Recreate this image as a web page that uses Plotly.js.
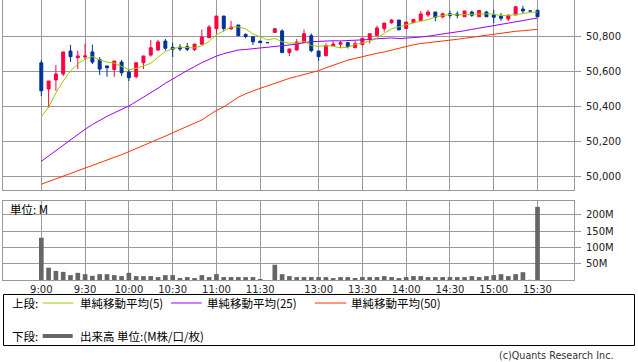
<!DOCTYPE html>
<html>
<head>
<meta charset="utf-8">
<script src="https://cdn.plot.ly/plotly-3.0.1.min.js"></script>
<style>
html,body{margin:0;padding:0;background:#fff;}
#chart{width:638px;height:362px;}
</style>
</head>
<body>
<div id="chart"></div>
<script>
// ---- data ----
const times = ["9:00","9:05","9:10","9:15","9:20","9:25","9:30","9:35","9:40","9:45",
"9:50","9:55","10:00","10:05","10:10","10:15","10:20","10:25","10:30","10:35",
"10:40","10:45","10:50","10:55","11:00","11:05","11:10","11:15","11:20","11:25",
"11:30","12:25","12:30","12:35","12:40","12:45","12:50","12:55","13:00","13:05",
"13:10","13:15","13:20","13:25","13:30","13:35","13:40","13:45","13:50","13:55",
"14:00","14:05","14:10","14:15","14:20","14:25","14:30","14:35","14:40","14:45",
"14:50","14:55","15:00","15:05","15:10","15:15","15:20","15:25","15:30"];

const openP = [50647,50497,50549,50583,50714,50676,50680,50709,50665,50629,
50609,50651,50594,50567,50647,50691,50720,50771,50735,50737,
50739,50722,50753,50790,50842,50914,50840,50863,50809,50796,
50771,50762,50820,50829,50705,50720,50762,50802,50714,50687,
50743,50753,50762,50733,50751,50780,50803,50842,50876,50891,
50843,50876,50887,50920,50937,50909,50927,50926,50910,50937,
50910,50937,50920,50914,50897,50920,50954,50943,50947];
const highP = [50663,50543,50634,50709,50749,50717,50757,50751,50680,50629,
50657,50663,50610,50647,50686,50777,50777,50783,50762,50754,
50760,50754,50836,50863,50914,50914,50886,50863,50815,50796,
50771,50762,50847,50838,50726,50783,50838,50815,50714,50757,
50771,50773,50767,50773,50789,50813,50859,50874,50897,50891,
50880,50899,50943,50949,50937,50933,50945,50941,50943,50945,
50950,50943,50950,50931,50920,50967,50973,50943,50947];
const lowP = [50457,50389,50487,50571,50651,50611,50663,50640,50577,50567,
50567,50571,50543,50558,50611,50682,50714,50717,50680,50714,
50714,50714,50753,50790,50810,50826,50840,50800,50787,50749,
50762,50762,50820,50705,50686,50717,50762,50707,50657,50687,
50743,50731,50729,50733,50745,50757,50803,50825,50869,50835,
50843,50876,50887,50909,50884,50901,50901,50901,50909,50909,
50909,50909,50874,50886,50886,50920,50927,50943,50910];
const closeP = [50487,50543,50583,50709,50682,50686,50686,50651,50611,50619,
50657,50590,50562,50647,50686,50733,50766,50730,50724,50726,
50724,50754,50794,50851,50914,50843,50851,50802,50797,50767,
50762,50762,50841,50705,50726,50766,50813,50716,50682,50745,
50754,50762,50739,50756,50787,50813,50846,50874,50891,50835,
50880,50894,50926,50937,50907,50927,50918,50918,50943,50918,
50945,50910,50907,50901,50920,50967,50943,50943,50910];

const ma5 = [50339,50394,50474,50543,50601,50641,50669,50683,50663,50651,
50645,50626,50608,50615,50628,50644,50679,50712,50728,50736,
50734,50732,50744,50770,50807,50831,50851,50852,50841,50812,
50796,50778,50786,50767,50759,50760,50770,50745,50741,50744,
50742,50732,50736,50751,50760,50771,50788,50815,50842,50852,
50865,50875,50885,50894,50909,50918,50923,50921,50923,50925,
50928,50927,50925,50916,50917,50921,50928,50935,50937];
const ma25 = [50084,50115,50145,50175,50205,50238,50267,50294,50320,50341,
50361,50381,50400,50425,50450,50475,50502,50530,50555,50580,
50603,50625,50648,50666,50685,50699,50711,50720,50723,50727,
50730,50733,50740,50744,50749,50753,50762,50768,50769,50772,
50773,50772,50773,50774,50777,50780,50784,50787,50789,50785,
50787,50789,50794,50799,50805,50811,50818,50821,50830,50838,
50845,50849,50857,50865,50872,50881,50888,50896,50902];
const ma50 = [49953,49968,49983,49998,50013,50028,50044,50058,50073,50090,
50106,50122,50139,50156,50173,50190,50209,50228,50247,50265,
50283,50301,50320,50348,50375,50395,50425,50450,50470,50487,
50501,50515,50530,50546,50558,50569,50580,50591,50602,50618,
50634,50648,50662,50672,50683,50692,50701,50709,50720,50731,
50743,50750,50757,50761,50766,50771,50775,50781,50787,50793,
50799,50805,50812,50817,50822,50827,50830,50835,50838];

// volume in millions
const volume = [130,38,28,25,15,22,18,13,18,18,
15,12,22,12,12,12,9,15,15,6,
9,6,15,9,18,9,9,9,9,9,
3,0,47,18,12,9,9,9,9,9,
6,9,9,6,9,9,9,12,9,6,
9,12,12,9,9,9,9,9,9,12,
9,12,15,18,12,18,24,0.5,225];

const timeTicks = ["9:00","9:30","10:00","10:30","11:00","11:30","13:00","13:30","14:00","14:30","15:00","15:30"];
const priceTicks = [50000,50200,50400,50600,50800];
const volTicks = [50,100,150,200];
const volTickText = ["50M","100M","150M","200M"];

const legendTop = "上段:";
const legendBottom = "下段:";
const maNames = ["単純移動平均(5)","単純移動平均(25)","単純移動平均(50)"];
const volName = "出来高 単位:(M株/口/枚)";
const unitLabel = "単位: M";
const copyright = "(c)Quants Research Inc.";

// ---- styles ----
const RED = "#ff0040", BLUE = "#003399";
const C5 = "#99cc00", C25 = "#9900ff", C50 = "#ff3300", CVOL = "#666666";
const GRID = "#999999";
const NUM_FONT = "DejaVu Sans, Verdana, sans-serif";
const JP_FONT = "'Noto Sans CJK JP', 'DejaVu Sans', sans-serif";
const JP_SIZE = 11.5;

// pixel -> paper helpers (plot area: x 3..574, y 0..280)
const L = 3, W = 571, H = 280;
const X = px => (px - L) / W;
const Y = py => (H - py) / H;

const traces = [
  {type:"candlestick", x:times, open:openP, high:highP, low:lowP, close:closeP,
   xaxis:"x2", yaxis:"y", showlegend:false, hoverinfo:"skip",
   increasing:{line:{color:RED,width:1}, fillcolor:RED},
   decreasing:{line:{color:BLUE,width:1}, fillcolor:BLUE},
   whiskerwidth:0},
  {type:"scatter", mode:"lines", x:times, y:ma50, xaxis:"x2", yaxis:"y",
   line:{color:C50,width:1}, showlegend:false, hoverinfo:"skip"},
  {type:"scatter", mode:"lines", x:times, y:ma25, xaxis:"x2", yaxis:"y",
   line:{color:C25,width:1}, showlegend:false, hoverinfo:"skip"},
  {type:"scatter", mode:"lines", x:times, y:ma5, xaxis:"x2", yaxis:"y",
   line:{color:C5,width:1}, showlegend:false, hoverinfo:"skip"},
  {type:"bar", x:times, y:volume, xaxis:"x", yaxis:"y2",
   marker:{color:CVOL, line:{width:0}}, showlegend:false, hoverinfo:"skip"}
];

const xCommon = {
  type:"category", range:[-5.25, 73.0], tickmode:"array", tickvals:timeTicks, ticktext:timeTicks,
  showgrid:true, gridcolor:GRID, gridwidth:1, showline:true, linecolor:GRID, linewidth:1,
  mirror:true, ticks:"", zeroline:false, fixedrange:true,
  tickfont:{family:NUM_FONT, size:10, color:"#222"}
};

const layout = {
  width:638, height:362,
  margin:{l:L, r:638-574, t:0, b:362-H},
  paper_bgcolor:"#fff", plot_bgcolor:"#fff",
  showlegend:false, boxgap:0.42, bargap:0.36,
  xaxis: Object.assign({}, xCommon, {anchor:"y2"}),
  xaxis2: Object.assign({}, xCommon, {anchor:"y", matches:"x", showticklabels:false, rangeslider:{visible:false}}),
  yaxis: {domain:[(H-190)/H, 1], range:[49920, 51005.7], side:"right", anchor:"x2",
    tickmode:"array", tickvals:priceTicks, tickformat:",d",
    ticks:"outside", ticklen:6, tickcolor:GRID, ticklabelstandoff:3,
    showgrid:true, gridcolor:GRID, showline:true, linecolor:GRID, mirror:true, zeroline:false,
    tickfont:{family:NUM_FONT, size:10, color:"#222"}, fixedrange:true},
  yaxis2: {domain:[0, (H-201)/H], range:[0, 243], side:"right", anchor:"x",
    tickmode:"array", tickvals:volTicks, ticktext:volTickText,
    ticks:"outside", ticklen:6, tickcolor:GRID, ticklabelstandoff:3,
    showgrid:true, gridcolor:GRID, showline:true, linecolor:GRID, mirror:true, zeroline:false,
    tickfont:{family:NUM_FONT, size:10, color:"#222"}, fixedrange:true},
  shapes:[
    {type:"rect", xref:"paper", yref:"paper", x0:X(3.5), x1:X(634.5), y0:Y(294.5), y1:Y(345.5),
     line:{color:"#000", width:1}, fillcolor:"rgba(0,0,0,0)"},
    {type:"line", xref:"paper", yref:"paper", x0:X(42.7), x1:X(73.3), y0:Y(303), y1:Y(303), line:{color:C5,width:1}},
    {type:"line", xref:"paper", yref:"paper", x0:X(171), x1:X(201.7), y0:Y(303), y1:Y(303), line:{color:C25,width:1}},
    {type:"line", xref:"paper", yref:"paper", x0:X(315), x1:X(346.3), y0:Y(303), y1:Y(303), line:{color:C50,width:1}},
    {type:"line", xref:"paper", yref:"paper", x0:X(42.7), x1:X(72.7), y0:Y(336), y1:Y(336), line:{color:CVOL,width:4}}
  ],
  annotations:[
    {xref:"paper", yref:"paper", x:X(8), y:Y(209), text:unitLabel, showarrow:false, xanchor:"left", yanchor:"middle",
     font:{family:JP_FONT, size:JP_SIZE, color:"#000"}},
    {xref:"paper", yref:"paper", x:X(10), y:Y(303), text:legendTop, showarrow:false, xanchor:"left", yanchor:"middle",
     font:{family:JP_FONT, size:JP_SIZE, color:"#000"}},
    {xref:"paper", yref:"paper", x:X(77.5), y:Y(303), text:maNames[0], showarrow:false, xanchor:"left", yanchor:"middle",
     font:{family:JP_FONT, size:JP_SIZE, color:"#000"}},
    {xref:"paper", yref:"paper", x:X(205), y:Y(303), text:maNames[1], showarrow:false, xanchor:"left", yanchor:"middle",
     font:{family:JP_FONT, size:JP_SIZE, color:"#000"}},
    {xref:"paper", yref:"paper", x:X(348.5), y:Y(303), text:maNames[2], showarrow:false, xanchor:"left", yanchor:"middle",
     font:{family:JP_FONT, size:JP_SIZE, color:"#000"}},
    {xref:"paper", yref:"paper", x:X(10), y:Y(336), text:legendBottom, showarrow:false, xanchor:"left", yanchor:"middle",
     font:{family:JP_FONT, size:JP_SIZE, color:"#000"}},
    {xref:"paper", yref:"paper", x:X(77.5), y:Y(336), text:volName, showarrow:false, xanchor:"left", yanchor:"middle",
     font:{family:JP_FONT, size:JP_SIZE, color:"#000"}},
    {xref:"paper", yref:"paper", x:X(615), y:Y(355), text:copyright, showarrow:false, xanchor:"right", yanchor:"middle",
     font:{family:NUM_FONT, size:9.6, color:"#333"}}
  ]
};

Plotly.newPlot("chart", traces, layout, {staticPlot:true, displayModeBar:false});
</script>
</body>
</html>
